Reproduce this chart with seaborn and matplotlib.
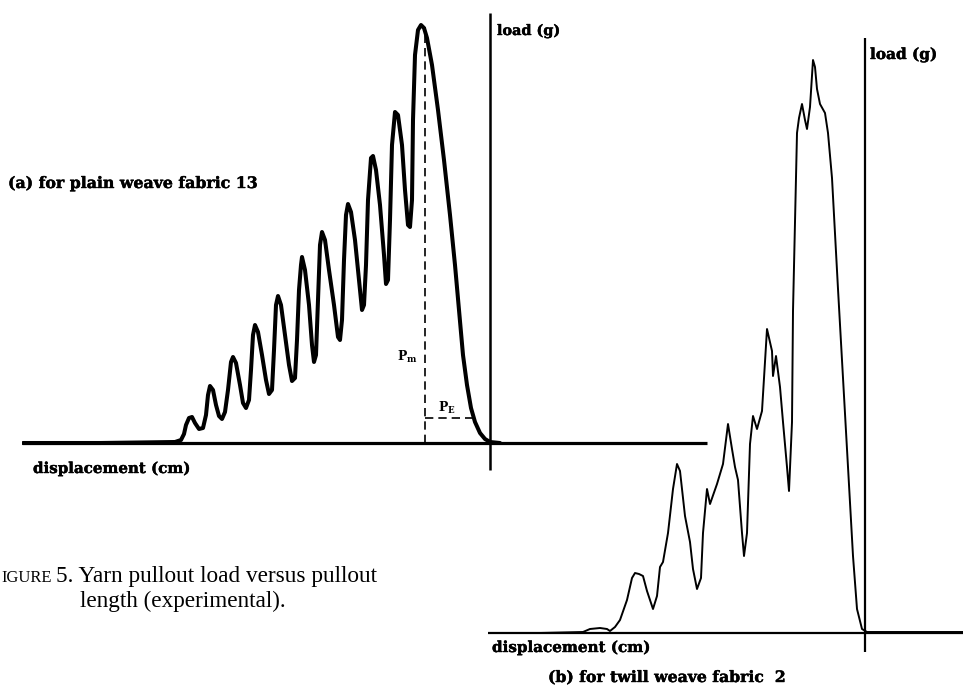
import matplotlib
matplotlib.use("Agg")
import matplotlib.pyplot as plt
import matplotlib.patheffects as pe
import numpy as np
import pandas as pd
import seaborn as sns

# ---------------- data (arbitrary units) ----------------
# (a) plain weave fabric 13: displacement vs load
disp_a = [-467, -390, -315, -309, -306, -304, -301, -298, -295, -291, -287, -284, -282, -280,
          -277, -274, -271, -268, -265, -262, -259, -257, -254, -250, -247, -244, -241, -239,
          -237, -235, -232, -228, -224, -221, -218, -216, -214, -212, -209, -205, -201, -198,
          -195, -193, -191, -189, -188, -185, -181, -178, -176, -174, -172, -170, -168, -165,
          -161, -156, -152, -150, -148, -146, -144, -142, -139, -135, -131, -128, -126, -124,
          -122, -119, -117, -114, -110, -106, -104, -102, -100, -98, -95, -92, -88, -85, -82,
          -80, -78, -77, -75, -72, -69, -66, -63, -58, -52, -46, -40, -35, -31, -27, -23, -19,
          -15, -10, -5, 0, 10]
load_a = [0, 0, 1, 3, 9, 18, 25, 26, 20, 14, 15, 28, 48, 57,
          53, 38, 27, 24, 31, 53, 81, 86, 80, 58, 40, 35, 43, 73,
          108, 118, 111, 88, 63, 49, 53, 93, 138, 147, 138, 108, 78, 62,
          65, 103, 153, 178, 186, 173, 138, 98, 81, 88, 143, 198, 211, 203,
          173, 138, 106, 103, 123, 183, 228, 239, 231, 203, 163, 133, 138, 178,
          243, 285, 287, 273, 238, 188, 159, 163, 223, 298, 331, 328, 298, 253, 218,
          216, 243, 323, 388, 413, 418, 415, 405, 378, 333, 283, 228, 178, 133, 88, 58, 35,
          21, 10, 4, 1, 0]

# P_m (vertical dashed) and P_E (horizontal dashed) markers in panel (a)
pm_disp = [-65, -65]
pm_load = [0, 416]
pe_disp = [-65, -18]
pe_load = [25, 25]

# (b) twill weave fabric 2: displacement vs load
disp_b = [-325, -282, -275, -265, -258, -255, -250, -245, -238, -233, -230, -226, -222, -218,
          -212, -208, -205, -202, -197, -192, -188, -185, -180, -175, -172, -168, -164, -162,
          -158, -155, -148, -142, -137, -133, -130, -127, -123, -121, -118, -115, -112, -108,
          -103, -98, -93, -92, -89, -85, -82, -78, -76, -73, -72, -70, -68, -66, -63, -60,
          -58, -55, -52, -50, -48, -45, -40, -37, -33, -27, -22, -17, -12, -8, -3, 2, 98]
load_b = [0, 1, 4, 5, 4, 2, 6, 13, 33, 55, 60, 59, 57, 42,
          24, 37, 66, 71, 100, 144, 169, 162, 117, 91, 64, 44, 55, 100,
          144, 129, 149, 169, 209, 184, 166, 153, 100, 77, 100, 189, 217, 204,
          222, 304, 282, 257, 277, 246, 211, 166, 142, 211, 322, 411, 500, 515, 529, 513,
          504, 526, 573, 566, 544, 529, 520, 500, 455, 344, 255, 166, 77, 24, 4, 1, 1]

label_load = "load (g)"
label_disp = "displacement (cm)"
title_a = "(a) for plain weave fabric 13"
title_b = "(b) for twill weave fabric  2"
caption_0 = "IGURE"
caption_1 = "5. Yarn pullout load versus pullout"
caption_2 = "length (experimental)."

# ---------------- figure ----------------
sns.set_theme(style="white")
plt.rcParams['font.family'] = ['DejaVu Serif', 'DejaVu Sans']
plt.rcParams['mathtext.fontset'] = 'dejavuserif'
plt.rcParams['text.color'] = 'black'

W, H = 963, 693
fig = plt.figure(figsize=(W / 100, H / 100), dpi=100)
fig.patch.set_facecolor("white")


def px_axes(x0, y0, x1, y1):
    ax = fig.add_axes([x0 / W, 1 - y1 / H, (x1 - x0) / W, (y1 - y0) / H])
    ax.set_facecolor("none")
    return ax


def style_axes(ax, lw_bottom, lw_left):
    for s in ("top", "right"):
        ax.spines[s].set_visible(False)
    ax.spines["left"].set_position(("data", 0))
    ax.spines["bottom"].set_position(("data", 0))
    ax.spines["left"].set_linewidth(lw_left)
    ax.spines["bottom"].set_linewidth(lw_bottom)
    for s in ("left", "bottom"):
        ax.spines[s].set_color("black")
        ax.spines[s].set_capstyle("butt")
    ax.set_xticks([])
    ax.set_yticks([])
    ax.set_xlabel("")
    ax.set_ylabel("")


# panel (a)
ax_a = px_axes(22, 13, 707, 470)
ax_a.set_xlim(-468, 217)
ax_a.set_ylim(-27, 430)
sns.lineplot(x=disp_a, y=load_a, ax=ax_a, color="black", lw=2.9, sort=False,
             estimator=None, solid_joinstyle="round", solid_capstyle="round")
ax_a.plot(pm_disp, pm_load, color="black", lw=1.2, ls=(0, (5, 3)))
ax_a.plot(pe_disp, pe_load, color="black", lw=1.2, ls=(0, (5, 3)))
style_axes(ax_a, 2.3, 1.8)

# panel (b)
ax_b = px_axes(488, 38, 963, 652)
ax_b.set_xlim(-377, 98)
ax_b.set_ylim(-19, 595)
sns.lineplot(x=disp_b, y=load_b, ax=ax_b, color="black", lw=1.4, sort=False,
             estimator=None, solid_joinstyle="round")
style_axes(ax_b, 1.6, 1.6)

renderer = fig.canvas.get_renderer()
heavy = [pe.withStroke(linewidth=0.3, foreground="black")]


def place(x, y, s, width, **kw):
    t = fig.text(x / W, 1 - y / H, s, ha="left", va="baseline", color="black", **kw)
    w = t.get_window_extent(renderer).width
    t.set_fontsize(t.get_fontsize() * width / w)
    return t


bold = dict(fontweight="bold", path_effects=heavy)
place(497, 35, label_load, 63, **bold)
place(870, 59, label_load, 67, **bold)
place(8, 188, title_a, 249, **bold)
place(33, 473, label_disp, 157, **bold)
place(492, 652, label_disp, 158, **bold)
place(548, 682, title_b, 237, **bold)
place(397, 361, r"$\mathbf{P_m}$", 20)
place(438, 412, r"$\mathbf{P_E}$", 17)

cap_kw = dict(family=["Liberation Serif", "DejaVu Serif"])
place(1, 582, caption_0, 50, **cap_kw)
place(56, 582, caption_1, 322, **cap_kw)
place(80, 607, caption_2, 205, **cap_kw)

fig.savefig("out.png", dpi=100, facecolor="white")
